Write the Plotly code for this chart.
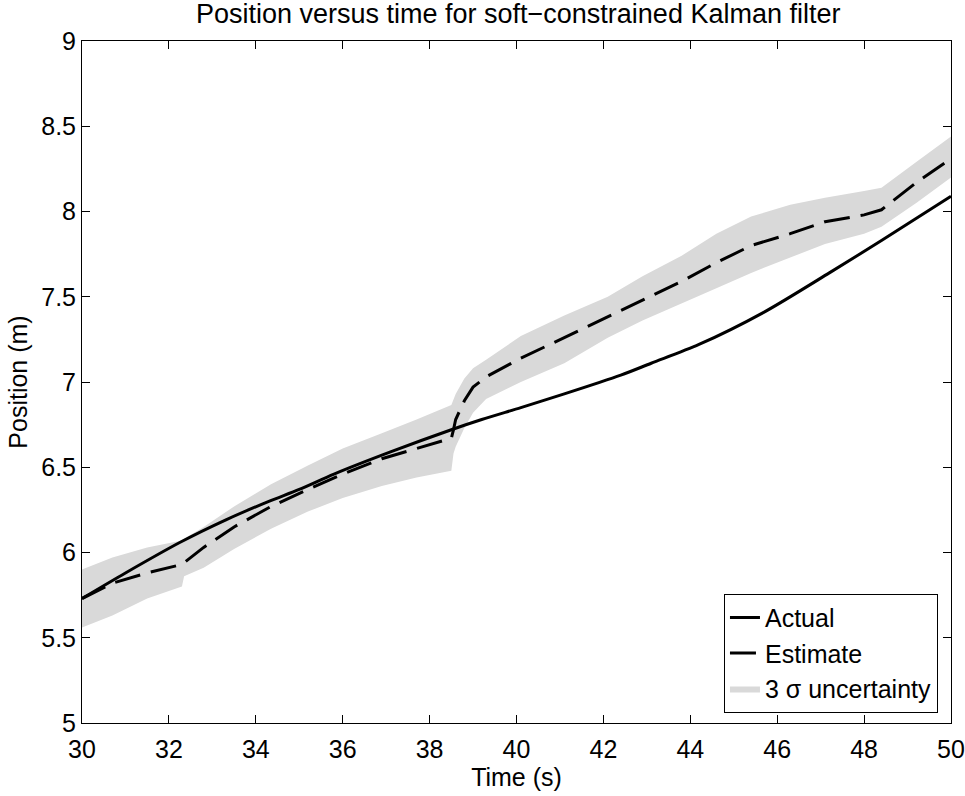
import plotly.graph_objects as go

# actual position
t_actual = [30, 31, 32.26, 33.3, 34.3, 35.0, 35.8, 37.1, 38.5, 39.2, 40.1,
            41.1, 42.4, 43.1, 44.2, 45.7, 47.2, 48.4, 50]
pos_actual = [5.73, 5.88, 6.06, 6.19, 6.30, 6.37, 6.46, 6.59, 6.72, 6.78, 6.85,
              6.93, 7.04, 7.11, 7.22, 7.41, 7.64, 7.83, 8.09]

# filter estimate and 3-sigma band
t_est = [30, 30.7, 31.5, 32.3, 32.35, 32.8, 33.5, 34.35, 35.2, 36.0, 36.9, 37.7,
         38.5, 38.55, 38.6, 38.8, 39.0, 39.3, 40.1, 41.1, 42.1, 42.9, 43.8,
         44.6, 45.4, 46.3, 47.1, 48.0, 48.4, 49.2, 50.0]
pos_est = [5.73, 5.82, 5.88, 5.93, 5.94, 6.03, 6.15, 6.27, 6.37, 6.46, 6.55, 6.61,
           6.67, 6.72, 6.78, 6.89, 6.97, 7.03, 7.14, 7.26, 7.38, 7.48, 7.59,
           7.70, 7.80, 7.87, 7.94, 7.98, 8.01, 8.17, 8.31]
band_upper = [5.90, 5.97, 6.03, 6.07, 6.08, 6.15, 6.27, 6.40, 6.51, 6.61, 6.70, 6.78,
              6.865, 6.90, 6.93, 7.02, 7.08, 7.13, 7.27, 7.39, 7.50, 7.62, 7.74,
              7.87, 7.97, 8.04, 8.08, 8.12, 8.14, 8.29, 8.44]
band_lower = [5.56, 5.63, 5.73, 5.80, 5.86, 5.91, 6.02, 6.14, 6.24, 6.32, 6.39, 6.44,
              6.48, 6.58, 6.62, 6.73, 6.82, 6.90, 7.00, 7.11, 7.26, 7.36, 7.46,
              7.55, 7.64, 7.73, 7.81, 7.87, 7.91, 8.05, 8.20]

x_ticks = [30, 32, 34, 36, 38, 40, 42, 44, 46, 48, 50]
y_ticks = [5, 5.5, 6, 6.5, 7, 7.5, 8, 8.5, 9]
y_tick_text = ["5", "5.5", "6", "6.5", "7", "7.5", "8", "8.5", "9"]

FONT = "Liberation Sans, Arial, sans-serif"

fig = go.Figure()

# band polygon: upper edge forward, lower edge back
fig.add_trace(go.Scatter(
    x=t_est + t_est[::-1],
    y=band_upper + band_lower[::-1],
    fill="toself",
    fillcolor="#d9d9d9",
    line=dict(width=0, color="#d9d9d9"),
    mode="lines",
    name="3 σ uncertainty",
    legendrank=3,
    hoverinfo="skip",
))
fig.add_trace(go.Scatter(
    x=t_actual, y=pos_actual,
    mode="lines",
    line=dict(color="black", width=3, shape="spline", smoothing=0.8),
    name="Actual",
    legendrank=1,
))
fig.add_trace(go.Scatter(
    x=t_est, y=pos_est,
    mode="lines",
    line=dict(color="black", width=3, dash="26px,11px"),
    name="Estimate",
    legendrank=2,
))

axis_common = dict(
    showline=True, linecolor="black", linewidth=1,
    mirror="ticks", ticks="inside", ticklen=8, tickcolor="black",
    showgrid=False, zeroline=False, automargin=False,
    tickfont=dict(family=FONT, size=25, color="black"),
)

fig.update_layout(
    width=965, height=796,
    margin=dict(l=82, r=14, t=41, b=73),
    paper_bgcolor="white", plot_bgcolor="white",
    font=dict(family=FONT, size=25, color="black"),
    title=dict(text="Position versus time for soft\u2212constrained Kalman filter",
               x=0.537, xanchor="center", y=0.995, yanchor="top",
               font=dict(family=FONT, size=27, color="black")),
    xaxis=dict(range=[30, 50], tickvals=x_ticks, ticklabelstandoff=4,
               title=dict(text="Time (s)", standoff=6,
                          font=dict(family=FONT, size=25)),
               **axis_common),
    yaxis=dict(range=[5, 9], tickvals=y_ticks, ticktext=y_tick_text,
               title=dict(text="Position (m)", standoff=6,
                          font=dict(family=FONT, size=25)),
               **axis_common),
    legend=dict(x=0.985, y=0.015, xanchor="right", yanchor="bottom",
                bordercolor="black", borderwidth=1, bgcolor="white",
                font=dict(family=FONT, size=25), tracegroupgap=0),
    showlegend=True,
)

# drop the default page margin so the figure sits at the window corner
fig.write_html("out.html", config={"displayModeBar": False},
               post_script="document.body.style.margin='0';")
